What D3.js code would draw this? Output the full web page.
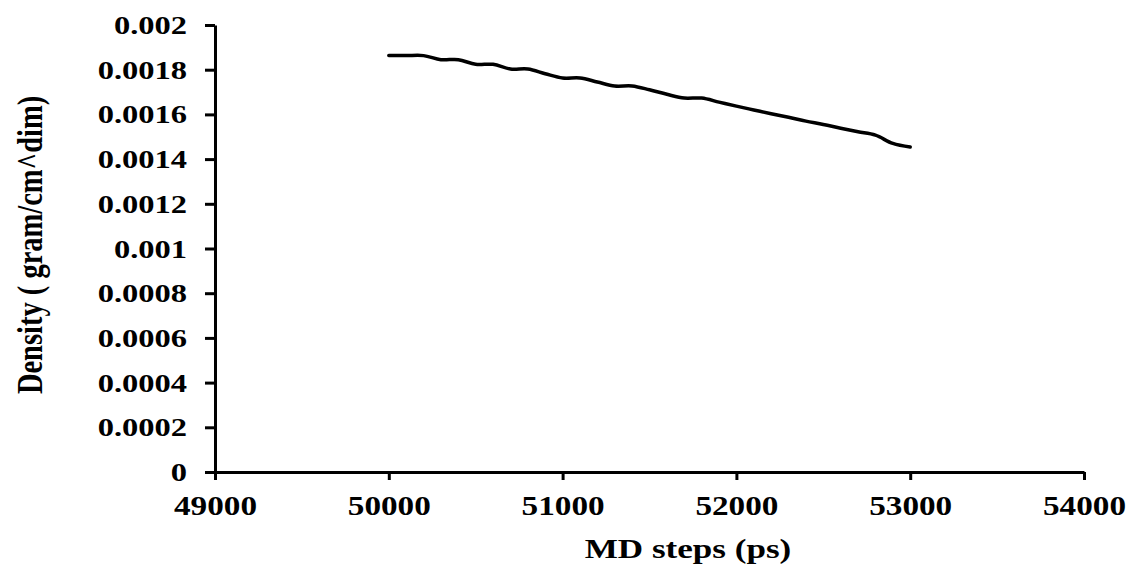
<!DOCTYPE html>
<html>
<head>
<meta charset="utf-8">
<script src="https://cdn.jsdelivr.net/npm/d3@7"></script>
<style>
  html, body { margin: 0; padding: 0; background: #fff; }
  svg { display: block; }
  text { font-family: "Liberation Serif", "Times New Roman", serif; font-weight: bold; fill: #000; }
</style>
</head>
<body>
<div id="chart"></div>
<script>
// MD steps (ps) and density
const steps = [
  50000, 50100, 50200, 50300, 50400, 50500, 50600, 50700, 50800, 50900,
  51000, 51100, 51200, 51300, 51400, 51500, 51600, 51700, 51800, 51900,
  52000, 52100, 52200, 52300, 52400, 52500, 52600, 52700, 52800, 52900,
  53000,
];
const density = [
  0.001863, 0.001863, 0.001863, 0.001845, 0.001845, 0.001824, 0.001824, 0.001803, 0.001803, 0.001782,
  0.001763, 0.001763, 0.001745, 0.001727, 0.001727, 0.00171, 0.00169, 0.001673, 0.001673, 0.001655,
  0.001637, 0.00162, 0.001603, 0.001587, 0.00157, 0.001555, 0.001538, 0.001522, 0.001507, 0.00147,
  0.001454,
];
const xTicks = [49000, 50000, 51000, 52000, 53000, 54000];
const yTicks = [0, 0.0002, 0.0004, 0.0006, 0.0008, 0.001, 0.0012, 0.0014, 0.0016, 0.0018, 0.002];
const xTitle = "MD steps (ps)";
const yTitle = "Density ( gram/cm^dim)";

const width = 1130;
const height = 572;
const margin = { top: 25, right: 46, bottom: 100, left: 215 };

const svg = d3
  .select("#chart")
  .append("svg")
  .attr("width", width)
  .attr("height", height);

const x = d3
  .scaleLinear()
  .domain([49000, 54000])
  .range([margin.left, width - margin.right]);

const y = d3
  .scaleLinear()
  .domain([0, 0.002])
  .range([height - margin.bottom, margin.top]);

const fmtY = (d) => String(+d.toFixed(4));

// y axis
const yAxis = svg
  .append("g")
  .attr("transform", `translate(${x.range()[0]},0)`)
  .call(d3.axisLeft(y).tickValues(yTicks).tickFormat(fmtY).tickSizeInner(10).tickSizeOuter(0).tickPadding(18));

// x axis
const xAxis = svg
  .append("g")
  .attr("transform", `translate(0,${y(0)})`)
  .call(d3.axisBottom(x).tickValues(xTicks).tickFormat(d3.format("d")).tickSizeInner(8).tickSizeOuter(0).tickPadding(16));

[yAxis, xAxis].forEach((g) => {
  g.attr("font-family", null).attr("font-size", null);
  g.select(".domain").attr("stroke", "#000").attr("stroke-width", 3);
  g.selectAll(".tick line").attr("stroke", "#000").attr("stroke-width", 3);
});

// text in the picture is stretched sideways, so scale each label around its anchor
yAxis
  .selectAll(".tick text")
  .style("font-size", "25px")
  .attr("dy", "0.34em")
  .attr("transform", function () {
    const tx = +d3.select(this).attr("x");
    return `translate(${tx},0) scale(1.3,1) translate(${-tx},0)`;
  });

xAxis
  .selectAll(".tick text")
  .style("font-size", "27px")
  .attr("dy", "0.71em")
  .attr("transform", "scale(1.23,1)");

// axis titles
svg
  .append("text")
  .attr("transform", `translate(688,${height - 14}) scale(1.3,1)`)
  .attr("text-anchor", "middle")
  .style("font-size", "27px")
  .text(xTitle);

svg
  .append("text")
  .attr("transform", `translate(42,245) scale(1.25,1) rotate(-90)`)
  .attr("text-anchor", "middle")
  .style("font-size", "28.5px")
  .text(yTitle);

// data line
const line = d3
  .line()
  .x((d, i) => x(steps[i]))
  .y((d) => y(d))
  .curve(d3.curveCatmullRom.alpha(0.5));

svg
  .append("path")
  .datum(density)
  .attr("fill", "none")
  .attr("stroke", "#000")
  .attr("stroke-width", 3.5)
  .attr("stroke-linejoin", "round")
  .attr("stroke-linecap", "round")
  .attr("d", line);
</script>
</body>
</html>
